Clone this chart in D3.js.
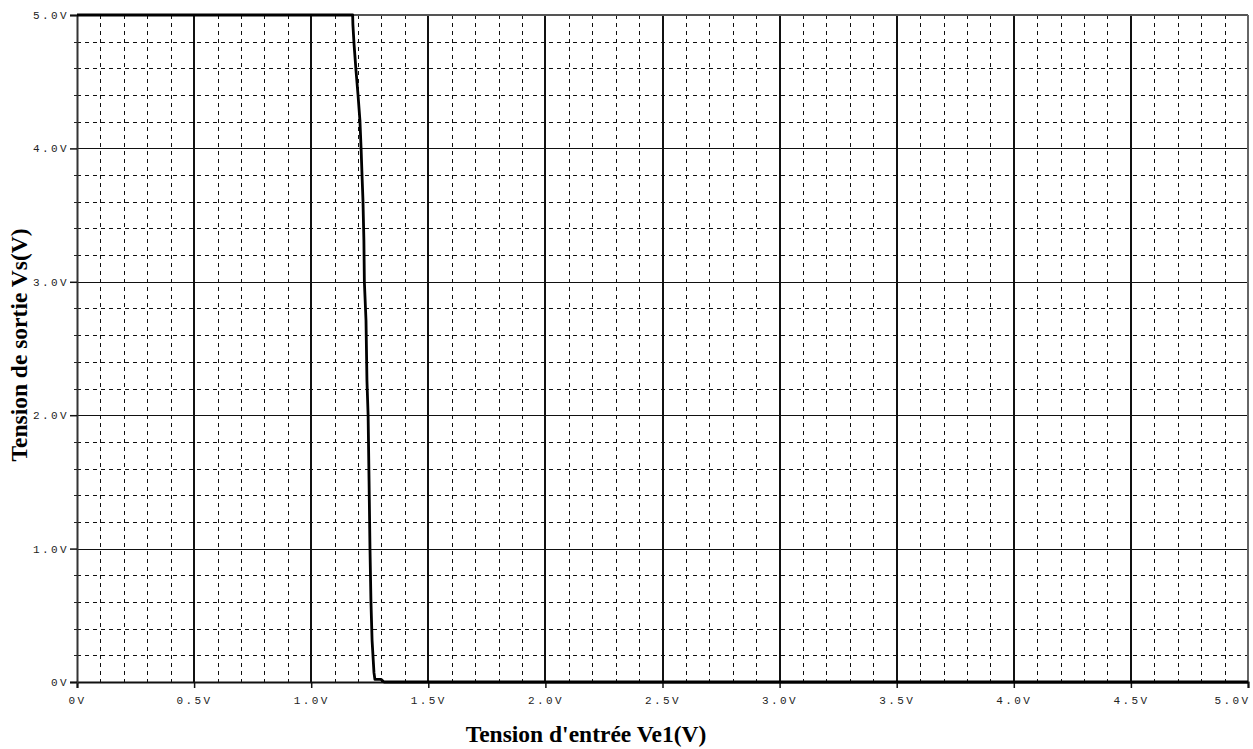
<!DOCTYPE html>
<html>
<head>
<meta charset="utf-8">
<script src="https://cdn.jsdelivr.net/npm/d3@7"></script>
<style>
  html, body { margin: 0; padding: 0; background: #fff; }
  svg { display: block; }
</style>
</head>
<body>
<svg id="chart" width="1253" height="749"></svg>
<script>
// ---- Data ----
const inputVoltage = [0, 1.170, 1.177, 1.178, 1.183, 1.191, 1.200, 1.208, 1.213, 1.217, 1.221, 1.225, 1.227, 1.234, 1.238, 1.243, 1.247, 1.251, 1.255, 1.260, 1.268, 1.272, 1.298, 1.311, 5.0];
const outputVoltage = [5.0, 5.0, 5.0, 4.93, 4.78, 4.59, 4.40, 4.21, 4.00, 3.80, 3.61, 3.31, 3.00, 2.71, 2.26, 2.00, 1.51, 1.00, 0.61, 0.31, 0.07, 0.02, 0.02, 0.0, 0.0];
const xTicks = [0, 0.5, 1.0, 1.5, 2.0, 2.5, 3.0, 3.5, 4.0, 4.5, 5.0];
const xTickLabels = ["0V", "0.5V", "1.0V", "1.5V", "2.0V", "2.5V", "3.0V", "3.5V", "4.0V", "4.5V", "5.0V"];
const yTicks = [0, 1, 2, 3, 4, 5];
const yTickLabels = ["0V", "1.0V", "2.0V", "3.0V", "4.0V", "5.0V"];
const xLabel = "Tension d'entrée Ve1(V)";
const yLabel = "Tension de sortie Vs(V)";

// ---- Layout ----
const svg = d3.select("#chart");
const L = 77, R = 1248, T = 15, B = 682;
const x = d3.scaleLinear().domain([0, 5]).range([L, R]);
const y = d3.scaleLinear().domain([0, 5]).range([B, T]);
const px = v => Math.round(v) + 0.5;

const xMinor = d3.range(0, 50).filter(i => i % 5 !== 0).map(i => i / 10);
const yMinor = d3.range(0, 25).filter(i => i % 5 !== 0).map(i => i / 5);

const g = svg.append("g");

// minor grid (dashed)
g.selectAll("line.xm").data(xMinor).enter().append("line")
  .attr("x1", d => px(x(d))).attr("x2", d => px(x(d)))
  .attr("y1", T).attr("y2", B)
  .attr("stroke", "#111").attr("stroke-width", 1)
  .attr("stroke-dasharray", "4,4");
g.selectAll("line.ym").data(yMinor).enter().append("line")
  .attr("x1", L).attr("x2", R)
  .attr("y1", d => px(y(d))).attr("y2", d => px(y(d)))
  .attr("stroke", "#111").attr("stroke-width", 1)
  .attr("stroke-dasharray", "4,4");

// major grid (solid)
g.selectAll("line.xM").data(xTicks.filter(d => d > 0 && d < 5)).enter().append("line")
  .attr("x1", d => Math.round(x(d))).attr("x2", d => Math.round(x(d)))
  .attr("y1", T).attr("y2", B)
  .attr("stroke", "#111").attr("stroke-width", 2);
g.selectAll("line.yM").data(yTicks.filter(d => d > 0 && d < 5)).enter().append("line")
  .attr("x1", L).attr("x2", R)
  .attr("y1", d => px(y(d))).attr("y2", d => px(y(d)))
  .attr("stroke", "#111").attr("stroke-width", 1);

// border
g.append("line").attr("x1", L).attr("x2", R).attr("y1", T).attr("y2", T)
  .attr("stroke", "#555").attr("stroke-width", 2);
g.append("line").attr("x1", R).attr("x2", R).attr("y1", T).attr("y2", B)
  .attr("stroke", "#666").attr("stroke-width", 2);

// axes
const fontTick = "'Liberation Mono', 'Courier New', monospace";
const xAxis = d3.axisBottom(x).tickValues(xTicks).tickSize(6)
  .tickFormat((d, i) => xTickLabels[i]);
const xg = svg.append("g").attr("transform", `translate(0,${B})`).call(xAxis);
xg.select(".domain").attr("stroke", "#111").attr("stroke-width", 2);
xg.selectAll(".tick line").attr("stroke", "#111").attr("stroke-width", 1.5);
xg.selectAll(".tick text")
  .attr("y", 14).attr("font-family", fontTick).attr("font-size", 11)
  .attr("letter-spacing", "2.4px").attr("fill", "#222");
xg.selectAll(".tick text").filter(d => d === 5)
  .attr("text-anchor", "end").attr("x", 2);

const yAxis = d3.axisLeft(y).tickValues(yTicks).tickSize(7)
  .tickFormat((d, i) => yTickLabels[i]);
const yg = svg.append("g").attr("transform", `translate(${L},0)`).call(yAxis);
yg.select(".domain").attr("stroke", "#333").attr("stroke-width", 2);
yg.selectAll(".tick line").attr("stroke", "#111").attr("stroke-width", 1.5);
yg.selectAll(".tick text")
  .attr("x", -8).attr("font-family", fontTick).attr("font-size", 11)
  .attr("letter-spacing", "2.4px").attr("fill", "#222");

// minor left ticks
svg.append("g").selectAll("line").data(yMinor).enter().append("line")
  .attr("x1", L - 3).attr("x2", L)
  .attr("y1", d => px(y(d))).attr("y2", d => px(y(d)))
  .attr("stroke", "#222").attr("stroke-width", 1);

// curve
const line = d3.line().x((d, i) => x(inputVoltage[i])).y(d => y(d));
svg.append("path").datum(outputVoltage)
  .attr("d", line).attr("fill", "none")
  .attr("stroke", "#000").attr("stroke-width", 2.8).attr("stroke-linejoin", "round");

// labels
svg.append("text").attr("x", 586).attr("y", 742)
  .attr("text-anchor", "middle")
  .attr("font-family", "'Liberation Serif', 'Times New Roman', serif")
  .attr("font-weight", "bold").attr("font-size", 23.5).attr("fill", "#000")
  .text(xLabel);
svg.append("text").attr("transform", "translate(27,345) rotate(-90)")
  .attr("text-anchor", "middle")
  .attr("font-family", "'Liberation Serif', 'Times New Roman', serif")
  .attr("font-weight", "bold").attr("font-size", 23.5).attr("fill", "#000")
  .text(yLabel);
</script>
</body>
</html>
